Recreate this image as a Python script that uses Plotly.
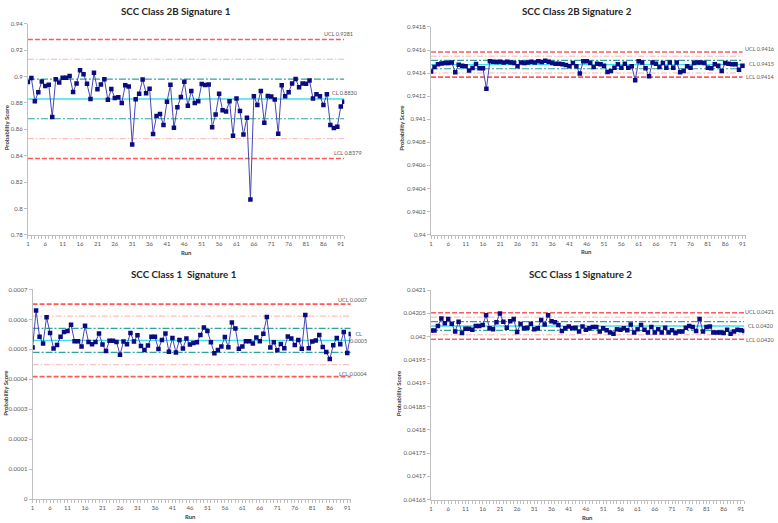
import plotly.graph_objects as go

W, H = 778, 523

# ---------------- data ----------------
runs_92 = list(range(1, 93))
runs_91 = list(range(1, 92))

c2b_sig1 = [0.8958, 0.8988, 0.8813, 0.8880, 0.8963, 0.8928, 0.8938, 0.8693, 0.8980, 0.8955,
            0.8990, 0.8990, 0.9003, 0.8883, 0.8948, 0.9048, 0.9018, 0.8945, 0.8830, 0.9028,
            0.8903, 0.8940, 0.8980, 0.8823, 0.8905, 0.8838, 0.8843, 0.8800, 0.8933, 0.8925,
            0.8485, 0.8828, 0.8870, 0.8978, 0.8873, 0.8908, 0.8565, 0.8700, 0.8715, 0.8632,
            0.8808, 0.8938, 0.8612, 0.8768, 0.8845, 0.8960, 0.8778, 0.8890, 0.8800, 0.8812,
            0.8943, 0.8935, 0.8940, 0.8615, 0.8712, 0.8870, 0.8745, 0.8735, 0.8813, 0.8552,
            0.8833, 0.8738, 0.8560, 0.8688, 0.8068, 0.8850, 0.8785, 0.8890, 0.8650, 0.8852,
            0.8848, 0.8825, 0.8567, 0.8933, 0.8850, 0.8880, 0.8948, 0.8982, 0.8918, 0.8947,
            0.8945, 0.8970, 0.8833, 0.8865, 0.8850, 0.8785, 0.8865, 0.8632, 0.8610, 0.8620,
            0.8773, 0.8808]

c2b_sig2 = [0.941413, 0.941453, 0.941476, 0.941484, 0.941487, 0.941487, 0.941493, 0.941407, 0.941473, 0.941464,
            0.941459, 0.941422, 0.941444, 0.941479, 0.941442, 0.941442, 0.941265, 0.941504, 0.941499, 0.941496,
            0.941499, 0.941493, 0.941499, 0.941493, 0.941487, 0.941459, 0.941493, 0.941487, 0.941493, 0.941499,
            0.941493, 0.941504, 0.941496, 0.941507, 0.941499, 0.941487, 0.941481, 0.941481, 0.941476, 0.941470,
            0.941459, 0.941487, 0.941459, 0.941396, 0.941504, 0.941504, 0.941487, 0.941453, 0.941481, 0.941476,
            0.941464, 0.941410, 0.941419, 0.941447, 0.941476, 0.941447, 0.941481, 0.941447, 0.941459, 0.941339,
            0.941504, 0.941493, 0.941442, 0.941373, 0.941493, 0.941481, 0.941453, 0.941487, 0.941447, 0.941493,
            0.941447, 0.941493, 0.941407, 0.941419, 0.941459, 0.941447, 0.941487, 0.941493, 0.941493, 0.941487,
            0.941447, 0.941442, 0.941476, 0.941464, 0.941419, 0.941487, 0.941481, 0.941476, 0.941476, 0.941430,
            0.941464]

c1_sig1 = [0.000506, 0.000630, 0.000542, 0.000520, 0.000607, 0.000555, 0.000503, 0.000515, 0.000542, 0.000558,
           0.000561, 0.000582, 0.000527, 0.000527, 0.000510, 0.000579, 0.000525, 0.000517, 0.000525, 0.000553,
           0.000516, 0.000495, 0.000529, 0.000529, 0.000525, 0.000482, 0.000526, 0.000517, 0.000555, 0.000526,
           0.000547, 0.000511, 0.000498, 0.000513, 0.000542, 0.000542, 0.000501, 0.000531, 0.000553, 0.000492,
           0.000538, 0.000490, 0.000531, 0.000503, 0.000536, 0.000516, 0.000521, 0.000524, 0.000548, 0.000573,
           0.000561, 0.000524, 0.000487, 0.000498, 0.000510, 0.000541, 0.000507, 0.000590, 0.000570, 0.000502,
           0.000510, 0.000527, 0.000527, 0.000520, 0.000540, 0.000527, 0.000552, 0.000608, 0.000506, 0.000524,
           0.000497, 0.000518, 0.000504, 0.000543, 0.000536, 0.000515, 0.000531, 0.000502, 0.000615, 0.000504,
           0.000526, 0.000530, 0.000548, 0.000508, 0.000491, 0.000468, 0.000514, 0.000538, 0.000517, 0.000558,
           0.000488, 0.000551]

c1_sig2 = [0.042013, 0.042013, 0.042023, 0.042039, 0.042029, 0.042038, 0.042028, 0.042011, 0.042032, 0.042008,
           0.042017, 0.042017, 0.042015, 0.042023, 0.042023, 0.042025, 0.042046, 0.042018, 0.042016, 0.042031,
           0.042050, 0.042032, 0.042019, 0.042033, 0.042038, 0.042010, 0.042027, 0.042018, 0.042019, 0.042028,
           0.042016, 0.042018, 0.042036, 0.042026, 0.042046, 0.042033, 0.042031, 0.042025, 0.042012, 0.042018,
           0.042022, 0.042018, 0.042019, 0.042011, 0.042022, 0.042015, 0.042018, 0.042021, 0.042021, 0.042011,
           0.042018, 0.042014, 0.042009, 0.042006, 0.042016, 0.042015, 0.042018, 0.042014, 0.042026, 0.042009,
           0.042016, 0.042025, 0.042015, 0.042009, 0.042021, 0.042009, 0.042016, 0.042009, 0.042019, 0.042009,
           0.042014, 0.042008, 0.042011, 0.042011, 0.042019, 0.042023, 0.042021, 0.042012, 0.042038, 0.042011,
           0.042021, 0.042022, 0.042009, 0.042009, 0.042009, 0.042008, 0.042015, 0.042006, 0.042011, 0.042015,
           0.042014, 0.042012]

# control limits: [UCL, +2s, +1s, CL, -1s, -2s, LCL]
limits_1 = [0.9281, 0.9131, 0.8980, 0.8830, 0.8680, 0.8529, 0.8379]
limits_2 = [0.941583, 0.941547, 0.941510, 0.941474, 0.941438, 0.941401, 0.941365]
limits_3 = [0.000651, 0.000611, 0.000570, 0.000530, 0.000490, 0.000449, 0.000409]
limits_4 = [0.0420515, 0.042042, 0.0420325, 0.042023, 0.0420135, 0.042004, 0.0419945]

titles = ["SCC Class 2B Signature 1", "SCC Class 2B Signature 2",
          "SCC Class 1  Signature 1", "SCC Class 1 Signature 2"]

ytick_1 = [0.78, 0.80, 0.82, 0.84, 0.86, 0.88, 0.90, 0.92, 0.94]
ytext_1 = ["0.78", "0.8", "0.82", "0.84", "0.86", "0.88", "0.9", "0.92", "0.94"]
ytick_2 = [0.9400, 0.9402, 0.9404, 0.9406, 0.9408, 0.9410, 0.9412, 0.9414, 0.9416, 0.9418]
ytext_2 = ["0.94", "0.9402", "0.9404", "0.9406", "0.9408", "0.941", "0.9412", "0.9414", "0.9416", "0.9418"]
ytick_3 = [0, 0.0001, 0.0002, 0.0003, 0.0004, 0.0005, 0.0006, 0.0007]
ytext_3 = ["0", "0.0001", "0.0002", "0.0003", "0.0004", "0.0005", "0.0006", "0.0007"]
ytick_4 = [0.04165, 0.0417, 0.04175, 0.0418, 0.04185, 0.0419, 0.04195, 0.042, 0.04205, 0.0421]
ytext_4 = ["0.04165", "0.0417", "0.04175", "0.0418", "0.04185", "0.0419", "0.04195", "0.042", "0.04205", "0.0421"]

labels_1 = ["UCL 0.9281", "CL 0.8830", "LCL 0.8379"]
labels_2 = ["UCL 0.9416", "CL 0.9415", "LCL 0.9414"]
labels_3 = ["UCL 0.0007", "CL<br>0.0005", "LCL 0.0004"]
labels_4 = ["UCL 0.0421", "CL 0.0420", "LCL 0.0420"]

# ---------------- layout geometry (pixels) ----------------
FONT = "Lato, 'Open Sans', sans-serif"
TICKC = "#595959"
AXC = "#BFBFBF"

panels = [
    dict(x=runs_92, y=c2b_sig1, lim=limits_1, yt=ytick_1, ytt=ytext_1, yr=[0.78, 0.94],
         px=(26, 343.6), py=(234, 20), lab=labels_1,
         labpos=[(354, 5, "right"), (359, 6, "right"), (363, 5, "right")],
         title=(175, 7), ytitle=(4, 125), xtitle=(185, 252)),
    dict(x=runs_91, y=c2b_sig2, lim=limits_2, yt=ytick_2, ytt=ytext_2, yr=[0.94, 0.9418],
         px=(430.7, 746.8), py=(233.7, 23.3), lab=labels_2,
         labpos=[(777, 3, "right"), (777, 1, "right"), (777, 0, "right")],
         title=(577, 7), ytitle=(401, 125), xtitle=(587, 251)),
    dict(x=runs_92, y=c1_sig1, lim=limits_3, yt=ytick_3, ytt=ytext_3, yr=[0, 0.0007],
         px=(30.7, 350.1), py=(502, 289.3), lab=labels_3,
         labpos=[(368, 4, "right"), (368, 3, "right"), (368, 3, "right")],
         title=(183, 274), ytitle=(4, 394), xtitle=(189, 519)),
    dict(x=runs_92, y=c1_sig2, lim=limits_4, yt=ytick_4, ytt=ytext_4, yr=[0.04165, 0.0421],
         px=(430.7, 745.2), py=(502.3, 290), lab=labels_4,
         labpos=[(777, 1, "right"), (777, 0, "right"), (777, -1, "right")],
         title=(581, 274), ytitle=(398, 394), xtitle=(588, 520)),
]

line_styles = [
    dict(color="#FF5A5A", width=1.6, dash="5px,2px"),          # UCL
    dict(color="#F7B3B3", width=1.0, dash="6px,2px,1.5px,2px"),  # +2s
    dict(color="#2FA39E", width=1.2, dash="7px,2px,2px,2px"),    # +1s
    dict(color="#3FE0EC", width=1.4),                            # CL
    dict(color="#2FA39E", width=1.2, dash="7px,2px,2px,2px"),    # -1s
    dict(color="#F7B3B3", width=1.0, dash="6px,2px,1.5px,2px"),  # -2s
    dict(color="#FF5A5A", width=1.6, dash="5px,2px"),          # LCL
]

fig = go.Figure()
annotations = []
layout_axes = {}

for i, p in enumerate(panels):
    k = "" if i == 0 else str(i + 1)
    xa, ya = "x" + k, "y" + k
    # control lines
    for v, st in zip(p["lim"], line_styles):
        fig.add_trace(go.Scatter(x=[p["x"][0], p["x"][-1]], y=[v, v], mode="lines",
                                 line=st, hoverinfo="skip", showlegend=False,
                                 xaxis=xa, yaxis=ya))
    # data
    fig.add_trace(go.Scatter(x=p["x"], y=p["y"], mode="lines+markers",
                             line=dict(color="#4646B4", width=1),
                             marker=dict(symbol="square", size=4.5, color="#0B0B80"),
                             showlegend=False, xaxis=xa, yaxis=ya))
    xd = [p["px"][0] / W, p["px"][1] / W]
    yd = [1 - p["py"][0] / H, 1 - p["py"][1] / H]
    layout_axes["xaxis" + k] = dict(
        domain=xd, anchor=ya, range=[1, 92], tick0=1, dtick=5, showgrid=False, zeroline=False,
        showline=True, linecolor=AXC, linewidth=1, ticks="outside", ticklen=3, tickcolor=AXC,
        tickfont=dict(family=FONT, size=6, color=TICKC),
        minor=dict(ticks="outside", dtick=1, ticklen=3, tickcolor=AXC, showgrid=False))
    layout_axes["yaxis" + k] = dict(
        domain=yd, anchor=xa, range=p["yr"], tickvals=p["yt"], ticktext=p["ytt"],
        showgrid=False, zeroline=False, showline=True, linecolor=AXC, linewidth=1,
        ticks="outside", ticklen=3, tickcolor=AXC,
        tickfont=dict(family=FONT, size=6, color=TICKC))
    # limit labels
    for txt, v, (lx, dy, anc) in zip(p["lab"], [p["lim"][0], p["lim"][3], p["lim"][6]], p["labpos"]):
        annotations.append(dict(x=lx / W, xref="paper", y=v, yref=ya, text=txt, showarrow=False,
                                xanchor=anc, yanchor="middle", yshift=dy, align="center",
                                font=dict(family=FONT, size=5.5, color=TICKC)))
    # titles
    tx, ty = p["title"]
    annotations.append(dict(x=tx / W, y=1 - ty / H, xref="paper", yref="paper",
                            text="<b>" + titles[i] + "</b>", showarrow=False,
                            xanchor="center", yanchor="middle",
                            font=dict(family=FONT, size=9.8, color="#262626")))
    yx, yy = p["ytitle"]
    annotations.append(dict(x=yx / W, y=1 - yy / H, xref="paper", yref="paper",
                            text="<b>Probability Score</b>", showarrow=False, textangle=-90,
                            xanchor="center", yanchor="middle",
                            font=dict(family=FONT, size=6, color="#404040")))
    rx, ry = p["xtitle"]
    annotations.append(dict(x=rx / W, y=1 - ry / H, xref="paper", yref="paper",
                            text="<b>Run</b>", showarrow=False,
                            xanchor="center", yanchor="middle",
                            font=dict(family=FONT, size=6, color="#404040")))

fig.update_layout(width=W, height=H, margin=dict(l=0, r=0, t=0, b=0),
                  paper_bgcolor="white", plot_bgcolor="white",
                  annotations=annotations, showlegend=False, **layout_axes)

fig.write_html("out.html", config={"displayModeBar": False},
               post_script="document.body.style.margin='0px';"
                           "document.documentElement.style.overflow='hidden';"
                           "document.body.style.overflow='hidden';")
